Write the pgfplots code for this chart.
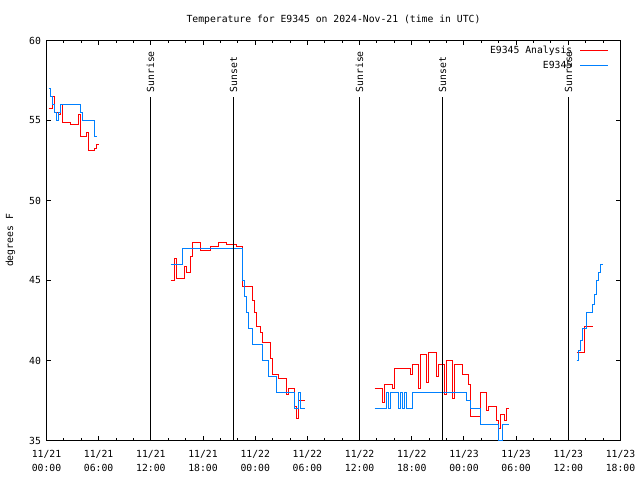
\documentclass[border=0pt]{standalone}
\usepackage{fontspec}
\setmainfont{DejaVu Sans Mono}
\usepackage{pgfplots}
\pgfplotsset{compat=1.18}
\definecolor{gred}{RGB}{255,0,0}
\definecolor{gblue}{RGB}{0,128,255}
\newcommand{\gf}{\fontsize{9.8}{14}\selectfont}
\pgfplotsset{rline/.style={const plot, draw=gred, color=gred, line width=1bp, mark=none},
             bline/.style={const plot, draw=gblue, color=gblue, line width=1bp, mark=none},
             sline/.style={draw=black, line width=1bp, mark=none, forget plot}}
\begin{document}
\begin{tikzpicture}[x=1bp,y=1bp]
\useasboundingbox (0,0) rectangle (640,480);
\begin{axis}[
  at={(46.5bp,39.5bp)}, anchor=south west, scale only axis,
  width=574bp, height=400bp,
  xmin=0, xmax=66, ymin=35, ymax=60,
  xtick={0,6,...,66},
  minor x tick num=2,
  xticklabels={{11/21\\00:00},{11/21\\06:00},{11/21\\12:00},{11/21\\18:00},{11/22\\00:00},{11/22\\06:00},{11/22\\12:00},{11/22\\18:00},{11/23\\00:00},{11/23\\06:00},{11/23\\12:00},{11/23\\18:00}},
  xticklabel style={align=center, font=\gf, yshift=-6bp},
  ytick={35,40,...,60},
  yticklabel style={font=\gf, xshift=-2bp},
  tick align=inside,
  major tick length=4.5bp, minor tick length=2.5bp,
  tick style={draw=black, line width=1bp},
  axis line style={line width=1bp},
  /pgf/number format/assume math mode=true,
  font=\gf,
  title={Temperature for E9345 on 2024-Nov-21 (time in UTC)},
  title style={at={(0.5,1)}, anchor=base, yshift=12bp, font=\gf},
  ylabel={degrees F},
  ylabel style={at={(axis description cs:-0.0627,0.5)}, anchor=center, font=\gf},
  legend plot pos=right,
  legend cell align=right,
  legend image code/.code={\draw[#1] (0bp,0bp) -- (28bp,0bp);},
  legend style={at={(1,1)}, anchor=north east, xshift=-8.5bp, yshift=-2bp, draw=none, fill=none,
    font=\gf, nodes={inner sep=1.5bp}, /tikz/column sep=6bp, /tikz/row sep=3bp},
]
% Analysis (red)
\addplot[rline] coordinates {
(0.230,55.75) (0.690,56.5) (0.920,55.5) (1.380,55.375) (1.610,56.0) (1.840,54.875) (2.759,54.75) (3.679,55.375) (3.909,54.0) (4.599,54.25) (4.829,53.125) (5.519,53.25) (5.749,53.5) (5.979,53.5)};
\addlegendentry{E9345 Analysis}
% E9345 (blue)
\addplot[bline] coordinates {
(0.230,57.0) (0.460,56.5) (0.690,56.0) (0.920,55.5) (1.150,55.0) (1.380,55.5) (1.610,56.0) (3.909,55.5) (4.139,55.0) (5.519,54.0) (5.749,54.0)};
\addlegendentry{E9345}
\addplot[rline, forget plot] coordinates {
(14.258,45.0) (14.718,46.375) (14.948,45.125) (15.868,45.875) (16.098,45.5) (16.557,46.5) (16.787,47.375) (17.707,46.875) (18.857,47.125) (19.777,47.375) (20.697,47.25) (21.847,47.125) (22.537,44.625) (23.687,43.75) (23.917,43.0) (24.147,42.125) (24.606,41.75) (24.836,41.125) (25.756,40.125) (25.986,39.125) (26.676,38.875) (27.596,37.875) (27.826,38.25) (28.516,37.125) (28.746,36.375) (28.976,37.5) (29.666,37.5)};
\addplot[rline, forget plot] coordinates {
(37.714,38.25) (38.634,37.375) (38.864,38.5) (39.784,38.25) (40.014,39.5) (41.854,39.125) (42.084,39.75) (42.774,38.25) (43.004,40.375) (43.694,38.625) (43.924,40.5) (44.843,39.0) (45.073,39.75) (45.763,37.875) (45.993,40.0) (46.683,37.625) (46.913,39.75) (47.833,39.125) (48.523,38.5) (48.753,36.5) (49.903,38.0) (50.593,36.875) (50.823,37.125) (51.742,36.25) (51.972,35.75) (52.202,36.625) (52.662,36.25) (52.892,37.0) (53.122,37.0)};
\addplot[rline, forget plot] coordinates {
(60.941,40.5) (61.861,42.125) (62.781,42.125)};
\addplot[bline, forget plot] coordinates {
(14.258,46.0) (15.638,47.0) (22.537,45.0) (22.767,44.0) (22.997,43.0) (23.227,42.0) (23.687,41.0) (24.836,40.0) (25.526,39.0) (26.446,38.0) (28.516,37.0) (28.976,38.0) (29.206,37.0) (29.666,37.0)};
\addplot[bline, forget plot] coordinates {
(37.714,37.0) (39.094,38.0) (39.324,37.0) (39.554,38.0) (40.474,37.0) (40.704,38.0) (40.934,37.0) (41.163,38.0) (41.393,37.0) (42.084,38.0) (48.293,37.5) (48.753,37.0) (49.903,36.0) (51.972,35.0) (52.432,36.0) (53.122,36.0)};
\addplot[bline, forget plot] coordinates {
(60.941,40.0) (61.171,40.625) (61.401,41.25) (61.631,42.0) (62.091,43.0) (62.781,43.5) (63.011,44.125) (63.241,45.0) (63.471,45.5) (63.701,46.0) (63.931,46.0)};
% sunrise / sunset lines
\addplot[sline] coordinates {(11.958,35) (11.958,56.4375)};
\addplot[sline] coordinates {(21.502,35) (21.502,56.4375)};
\addplot[sline] coordinates {(35.990,35) (35.990,56.4375)};
\addplot[sline] coordinates {(45.533,35) (45.533,56.4375)};
\addplot[sline] coordinates {(60.021,35) (60.021,56.4375)};
\node[rotate=90, anchor=west, inner sep=0pt, font=\gf] at (axis cs:11.958,56.75) {Sunrise};
\node[rotate=90, anchor=west, inner sep=0pt, font=\gf] at (axis cs:21.502,56.75) {Sunset};
\node[rotate=90, anchor=west, inner sep=0pt, font=\gf] at (axis cs:35.990,56.75) {Sunrise};
\node[rotate=90, anchor=west, inner sep=0pt, font=\gf] at (axis cs:45.533,56.75) {Sunset};
\node[rotate=90, anchor=west, inner sep=0pt, font=\gf] at (axis cs:60.021,56.75) {Sunrise};
\end{axis}
\end{tikzpicture}
\end{document}
